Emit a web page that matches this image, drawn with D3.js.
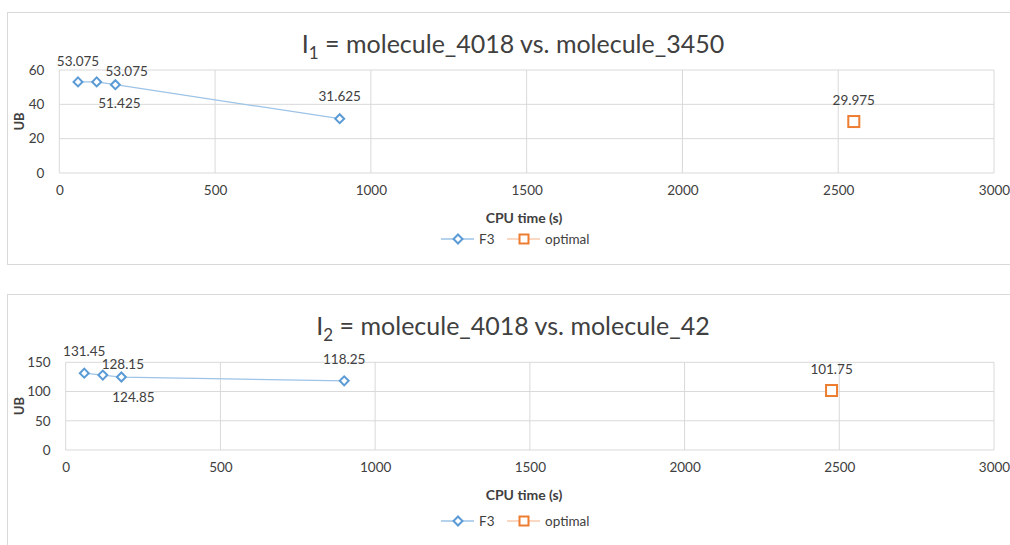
<!DOCTYPE html>
<html>
<head>
<meta charset="utf-8">
<script src="https://cdn.jsdelivr.net/npm/d3@7"></script>
<style>
  body { margin: 0; background: #fff; }
  svg text { font-family: Lato, "Open Sans", sans-serif; fill: #404040; }
</style>
</head>
<body>
<div class="container"></div>
<script>
const w = 1010
const h = 545

// shared
const xTicks = [0, 500, 1000, 1500, 2000, 2500, 3000]
const f3Time = [60, 120, 180, 900]
const seriesNames = ["F3", "optimal"]

// chart 1
const f3UB1 = [53.075, 53.075, 51.425, 31.625]
const optTime1 = [2550]
const optUB1 = [29.975]
const yTicks1 = [0, 20, 40, 60]

// chart 2
const f3UB2 = [131.45, 128.15, 124.85, 118.25]
const optTime2 = [2475]
const optUB2 = [101.75]
const yTicks2 = [0, 50, 100, 150]

const blue = "#5b9bd5"
const orange = "#ed7d31"

const svg = d3.select(".container")
              .append("svg")
              .attr("width", w)
              .attr("height", h)

function drawChart(cfg) {
  const g = svg.append("g")

  // outer frame
  g.append("rect")
    .attr("x", 7.5).attr("y", cfg.top + 0.5)
    .attr("width", 1010).attr("height", cfg.frameH)
    .attr("fill", "none").attr("stroke", "#d9d9d9")

  const xScale = d3.scaleLinear().domain([0, 3000]).range([cfg.left, 994])
  const yScale = d3.scaleLinear().domain([0, d3.max(cfg.yTicks)]).range([cfg.bottom, cfg.plotTop])

  // title
  const title = g.append("text")
    .attr("x", 513).attr("y", cfg.top + 41)
    .attr("text-anchor", "middle")
    .style("font-size", "25px")
  title.append("tspan").text("I")
  title.append("tspan").text(cfg.sub).attr("dy", 6).style("font-size", "17px")
  title.append("tspan").text(" = " + cfg.title).attr("dy", -6)

  // grid
  g.append("g").selectAll("line").data(xTicks).enter().append("line")
    .attr("x1", d => xScale(d)).attr("x2", d => xScale(d))
    .attr("y1", yScale.range()[0]).attr("y2", yScale.range()[1])
    .attr("stroke", "#d9d9d9")
  g.append("g").selectAll("line").data(cfg.yTicks).enter().append("line")
    .attr("x1", xScale.range()[0]).attr("x2", xScale.range()[1])
    .attr("y1", d => yScale(d)).attr("y2", d => yScale(d))
    .attr("stroke", "#d9d9d9")

  // axes (labels only)
  const xAxis = d3.axisBottom(xScale).tickValues(xTicks).tickSize(0).tickPadding(12)
                  .tickFormat(d3.format("d"))
  const yAxis = d3.axisLeft(yScale).tickValues(cfg.yTicks).tickSize(0).tickPadding(15)
                  .tickFormat(d3.format("d"))
  const xg = g.append("g").attr("transform", `translate(0, ${cfg.bottom})`).call(xAxis)
  const yg = g.append("g").attr("transform", `translate(${cfg.left}, 0)`).call(yAxis)
  ;[xg, yg].forEach(a => {
    a.select(".domain").remove()
    a.selectAll("text").style("font-size", "13.5px").attr("fill", "#404040")
      .style("font-family", "Lato, sans-serif")
  })

  g.append("text")
    .attr("transform", `translate(24, ${(cfg.bottom + cfg.plotTop) / 2}) rotate(-90)`)
    .attr("text-anchor", "middle")
    .style("font-size", "13px").style("font-weight", "bold")
    .text("UB")

  g.append("text")
    .attr("x", 524).attr("y", cfg.bottom + 50)
    .attr("text-anchor", "middle")
    .style("font-size", "14px").style("font-weight", "bold")
    .text("CPU time (s)")

  // F3 line + markers
  const f3 = f3Time.map((t, i) => [t, cfg.f3UB[i]])
  g.append("path")
    .datum(f3)
    .attr("d", d3.line().x(d => xScale(d[0])).y(d => yScale(d[1])))
    .attr("fill", "none").attr("stroke", "#9dc3e6").attr("stroke-width", 1.25)

  const diamond = d3.symbol().type(d3.symbolSquare).size(40)
  g.selectAll(".f3").data(f3).enter().append("path")
    .attr("d", diamond)
    .attr("transform", d => `translate(${xScale(d[0])}, ${yScale(d[1])}) rotate(45)`)
    .attr("fill", "#fff").attr("stroke", blue).attr("stroke-width", 2)

  const opt = cfg.optTime.map((t, i) => [t, cfg.optUB[i]])
  g.selectAll(".opt").data(opt).enter().append("rect")
    .attr("x", d => xScale(d[0]) - 5.5).attr("y", d => yScale(d[1]) - 5.5)
    .attr("width", 11).attr("height", 11)
    .attr("fill", "#fff").attr("stroke", orange).attr("stroke-width", 2)

  // data labels
  g.selectAll(".lbl-f3").data(f3).enter().append("text")
    .attr("x", (d, i) => xScale(d[0]) + cfg.labelOff[i][0])
    .attr("y", (d, i) => yScale(d[1]) + cfg.labelOff[i][1])
    .attr("dy", "0.35em")
    .attr("text-anchor", "middle")
    .style("font-size", "13.5px")
    .text(d => d[1])
  g.selectAll(".lbl-opt").data(opt).enter().append("text")
    .attr("x", d => xScale(d[0]))
    .attr("y", d => yScale(d[1]) - 21)
    .attr("dy", "0.35em")
    .attr("text-anchor", "middle")
    .style("font-size", "13.5px")
    .text(d => d[1])

  // legend
  const ly = cfg.bottom + cfg.legendOff
  const legend = g.append("g")
  const items = [
    {x: 441, line: "#9dc3e6", color: blue, shape: "diamond"},
    {x: 507, line: "#f8cbad", color: orange, shape: "square"}
  ]
  items.forEach((it, i) => {
    legend.append("line")
      .attr("x1", it.x).attr("x2", it.x + 33).attr("y1", ly).attr("y2", ly)
      .attr("stroke", it.line).attr("stroke-width", 1.5)
    if (it.shape === "diamond") {
      legend.append("path").attr("d", diamond)
        .attr("transform", `translate(${it.x + 17}, ${ly}) rotate(45)`)
        .attr("fill", "#fff").attr("stroke", it.color).attr("stroke-width", 2)
    } else {
      legend.append("rect")
        .attr("x", it.x + 17 - 4.5).attr("y", ly - 4.5).attr("width", 9).attr("height", 9)
        .attr("fill", "#fff").attr("stroke", it.color).attr("stroke-width", 2)
    }
    legend.append("text")
      .attr("x", it.x + 38).attr("y", ly).attr("dy", "0.35em")
      .style("font-size", "13.5px")
      .text(seriesNames[i])
  })
}

drawChart({
  top: 12, frameH: 252, plotTop: 70, bottom: 173, left: 59.3, legendOff: 66,
  sub: "1", title: "molecule_4018 vs. molecule_3450",
  yTicks: yTicks1, f3UB: f3UB1, optTime: optTime1, optUB: optUB1,
  labelOff: [[0, -21], [30, -11], [4, 19], [0, -22]]
})

drawChart({
  top: 294, frameH: 300, plotTop: 362.3, bottom: 450, left: 65.7, legendOff: 71,
  sub: "2", title: "molecule_4018 vs. molecule_42",
  yTicks: yTicks2, f3UB: f3UB2, optTime: optTime2, optUB: optUB2,
  labelOff: [[0, -22], [20, -11], [12, 20], [0, -22]]
})
</script>
</body>
</html>
